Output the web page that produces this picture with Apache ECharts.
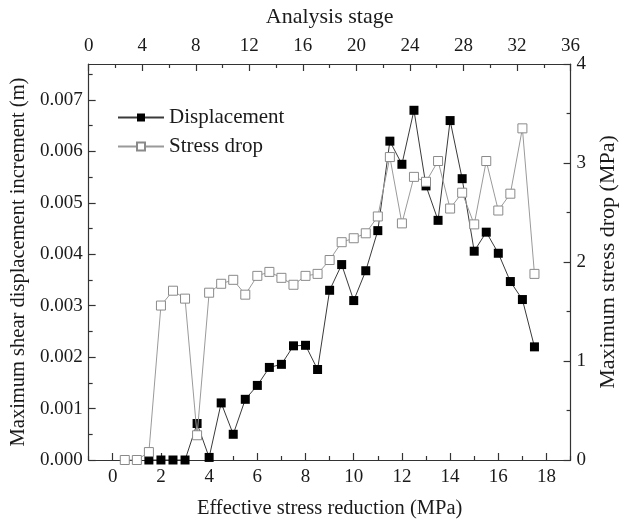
<!DOCTYPE html>
<html>
<head>
<meta charset="utf-8">
<script src="https://cdn.jsdelivr.net/npm/echarts@6/dist/echarts.min.js"></script>
<style>
  html, body { margin: 0; padding: 0; background: #fff; }
  #chart { width: 627px; height: 524px; }
</style>
</head>
<body>
<div id="chart"></div>
<script>
// Effective stress reduction (MPa) at which each quantity was sampled
const stressDropX = [0.5, 1, 1.5, 2, 2.5, 3, 3.5, 4, 4.5, 5, 5.5, 6, 6.5, 7, 7.5, 8, 8.5, 9,
  9.5, 10, 10.5, 11, 11.5, 12, 12.5, 13, 13.5, 14, 14.5, 15, 15.5, 16, 16.5, 17, 17.5];
const displacementX = [1.5, 2, 2.5, 3, 3.5, 4, 4.5, 5, 5.5, 6, 6.5, 7, 7.5, 8, 8.5, 9,
  9.5, 10, 10.5, 11, 11.5, 12, 12.5, 13, 13.5, 14, 14.5, 15, 15.5, 16, 16.5, 17, 17.5];

// Maximum shear displacement increment (m)
const displacement = [0, 0, 0, 0, 0.00071, 0.00005, 0.00111, 0.0005, 0.00118, 0.00145,
  0.0018, 0.00186, 0.00222, 0.00223, 0.00176, 0.0033, 0.0038, 0.0031, 0.00368, 0.00446,
  0.0062, 0.00575, 0.0068, 0.00533, 0.00466, 0.0066, 0.00547, 0.00406, 0.00443, 0.00402,
  0.00347, 0.00312, 0.0022];

// Maximum stress drop (MPa)
const stressDrop = [0, 0, 0.08, 1.56, 1.71, 1.63, 0.25, 1.69, 1.78, 1.82, 1.67, 1.86,
  1.90, 1.84, 1.77, 1.86, 1.88, 2.02, 2.20, 2.24, 2.29, 2.46, 3.06, 2.39, 2.86, 2.81,
  3.02, 2.54, 2.70, 2.38, 3.02, 2.52, 2.69, 3.35, 1.88];

// Tick positions
const bottomMajor = [0, 2, 4, 6, 8, 10, 12, 14, 16, 18];
const bottomMinor = [-1, 1, 3, 5, 7, 9, 11, 13, 15, 17, 19];
const topMajor = [0, 4, 8, 12, 16, 20, 24, 28, 32, 36];
const topMinor = [2, 6, 10, 14, 18, 22, 26, 30, 34];
const leftMajor = [0, 0.001, 0.002, 0.003, 0.004, 0.005, 0.006, 0.007];
const leftMinor = [0.0005, 0.0015, 0.0025, 0.0035, 0.0045, 0.0055, 0.0065, 0.0075];

const FONT = '"Liberation Serif", "Times New Roman", serif';
const INK = '#1a1a1a';

const pair = (xs, ys) => xs.map((x, i) => [x, ys[i]]);

const lineStyle = { color: '#333', width: 1.2 };
const labelStyle = { color: INK, fontFamily: FONT, fontSize: 19 };
const nameStyle = { color: INK, fontFamily: FONT, fontSize: 20.5 };
const sideNameStyle = { color: INK, fontFamily: FONT, fontSize: 22 };

function majorAxis(extra) {
  return Object.assign({
    type: 'value',
    splitLine: { show: false },
    axisLine: { show: true, onZero: false, lineStyle: lineStyle },
    nameTextStyle: nameStyle
  }, extra);
}
function minorAxis(extra) {
  return Object.assign({
    type: 'value',
    splitLine: { show: false },
    axisLine: { show: false, onZero: false },
    axisLabel: { show: false }
  }, extra);
}

const chart = echarts.init(document.getElementById('chart'), null, { renderer: 'canvas' });

chart.setOption({
  animation: false,
  backgroundColor: '#fff',
  grid: { left: 87, right: 46, top: 64, bottom: 61, containLabel: false },
  legend: {
    orient: 'vertical',
    left: 112,
    top: 102,
    itemGap: 8,
    itemWidth: 46,
    itemHeight: 10,
    textStyle: { color: INK, fontFamily: FONT, fontSize: 21 },
    data: ['Displacement', 'Stress drop']
  },
  xAxis: [
    majorAxis({
      position: 'bottom', min: -1, max: 19,
      name: 'Effective stress reduction (MPa)', nameLocation: 'middle', nameGap: 38,
      axisTick: { show: true, inside: true, length: 7, lineStyle: lineStyle, customValues: bottomMajor },
      axisLabel: Object.assign({ margin: 8, customValues: bottomMajor }, labelStyle)
    }),
    minorAxis({
      position: 'bottom', min: -1, max: 19,
      axisTick: { show: true, inside: true, length: 4, lineStyle: lineStyle, customValues: bottomMinor }
    }),
    majorAxis({
      position: 'top', min: 0, max: 36,
      name: 'Analysis stage', nameLocation: 'middle', nameGap: 36, nameTextStyle: sideNameStyle,
      axisTick: { show: true, inside: true, length: 7, lineStyle: lineStyle, customValues: topMajor },
      axisLabel: Object.assign({ margin: 8, customValues: topMajor }, labelStyle)
    }),
    minorAxis({
      position: 'top', min: 0, max: 36,
      axisTick: { show: true, inside: true, length: 4, lineStyle: lineStyle, customValues: topMinor }
    })
  ],
  yAxis: [
    majorAxis({
      position: 'left', min: 0, max: 0.0077,
      name: 'Maximum shear displacement increment (m)', nameLocation: 'middle', nameGap: 56,
      axisTick: { show: true, inside: true, length: 7, lineStyle: lineStyle, customValues: leftMajor },
      axisLabel: Object.assign({ margin: 6, customValues: leftMajor, formatter: v => v.toFixed(3) }, labelStyle)
    }),
    majorAxis({
      position: 'right', min: 0, max: 4, interval: 1,
      name: 'Maximum stress drop (MPa)', nameLocation: 'middle', nameGap: 25, nameTextStyle: sideNameStyle,
      axisTick: { show: true, inside: true, length: 7, lineStyle: lineStyle },
      minorTick: { show: true, splitNumber: 2, length: 4, lineStyle: lineStyle },
      axisLabel: Object.assign({ margin: 6 }, labelStyle)
    }),
    minorAxis({
      position: 'left', min: 0, max: 0.0077,
      axisTick: { show: true, inside: true, length: 4, lineStyle: lineStyle, customValues: leftMinor }
    })
  ],
  series: [
    {
      name: 'Stress drop',
      type: 'line',
      xAxisIndex: 0,
      yAxisIndex: 1,
      data: pair(stressDropX, stressDrop),
      symbol: 'rect',
      symbolSize: 9,
      z: 3,
      lineStyle: { color: '#9a9a9a', width: 1 },
      itemStyle: { color: '#fff', borderColor: '#8a8a8a', borderWidth: 1 }
    },
    {
      name: 'Displacement',
      type: 'line',
      xAxisIndex: 0,
      yAxisIndex: 0,
      data: pair(displacementX, displacement),
      symbol: 'rect',
      symbolSize: 9,
      z: 2,
      lineStyle: { color: '#3a3a3a', width: 1 },
      itemStyle: { color: '#000', borderColor: '#000', borderWidth: 0 }
    }
  ]
});
</script>
</body>
</html>
